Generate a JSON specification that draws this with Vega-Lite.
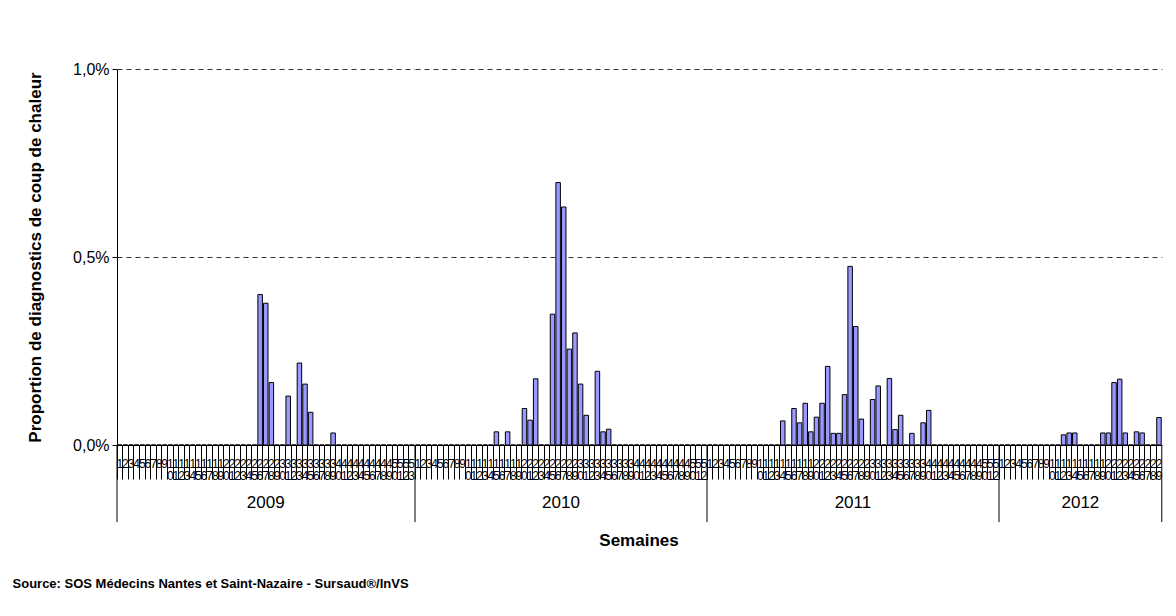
{
"$schema": "https://vega.github.io/schema/vega-lite/v6.json",
"background": "white",
"padding": {"left": 12, "top": 61, "right": 4, "bottom": 4},
"bounds": "flush",
"data": {"values": [
{"y":2009,"w":1,"v":0},{"y":2009,"w":2,"v":0},{"y":2009,"w":3,"v":0},{"y":2009,"w":4,"v":0},{"y":2009,"w":5,"v":0},{"y":2009,"w":6,"v":0},{"y":2009,"w":7,"v":0},{"y":2009,"w":8,"v":0},{"y":2009,"w":9,"v":0},{"y":2009,"w":10,"v":0},
{"y":2009,"w":11,"v":0},{"y":2009,"w":12,"v":0},{"y":2009,"w":13,"v":0},{"y":2009,"w":14,"v":0},{"y":2009,"w":15,"v":0},{"y":2009,"w":16,"v":0},{"y":2009,"w":17,"v":0},{"y":2009,"w":18,"v":0},{"y":2009,"w":19,"v":0},{"y":2009,"w":20,"v":0},
{"y":2009,"w":21,"v":0},{"y":2009,"w":22,"v":0},{"y":2009,"w":23,"v":0},{"y":2009,"w":24,"v":0},{"y":2009,"w":25,"v":0},{"y":2009,"w":26,"v":0.40},{"y":2009,"w":27,"v":0.377},{"y":2009,"w":28,"v":0.166},{"y":2009,"w":29,"v":0},{"y":2009,"w":30,"v":0},
{"y":2009,"w":31,"v":0.13},{"y":2009,"w":32,"v":0},{"y":2009,"w":33,"v":0.218},{"y":2009,"w":34,"v":0.162},{"y":2009,"w":35,"v":0.087},{"y":2009,"w":36,"v":0},{"y":2009,"w":37,"v":0},{"y":2009,"w":38,"v":0},{"y":2009,"w":39,"v":0.032},{"y":2009,"w":40,"v":0},
{"y":2009,"w":41,"v":0},{"y":2009,"w":42,"v":0},{"y":2009,"w":43,"v":0},{"y":2009,"w":44,"v":0},{"y":2009,"w":45,"v":0},{"y":2009,"w":46,"v":0},{"y":2009,"w":47,"v":0},{"y":2009,"w":48,"v":0},{"y":2009,"w":49,"v":0},{"y":2009,"w":50,"v":0},
{"y":2009,"w":51,"v":0},{"y":2009,"w":52,"v":0},{"y":2009,"w":53,"v":0},
{"y":2010,"w":1,"v":0},{"y":2010,"w":2,"v":0},{"y":2010,"w":3,"v":0},{"y":2010,"w":4,"v":0},{"y":2010,"w":5,"v":0},{"y":2010,"w":6,"v":0},{"y":2010,"w":7,"v":0},{"y":2010,"w":8,"v":0},{"y":2010,"w":9,"v":0},{"y":2010,"w":10,"v":0},
{"y":2010,"w":11,"v":0},{"y":2010,"w":12,"v":0},{"y":2010,"w":13,"v":0},{"y":2010,"w":14,"v":0},{"y":2010,"w":15,"v":0.035},{"y":2010,"w":16,"v":0},{"y":2010,"w":17,"v":0.035},{"y":2010,"w":18,"v":0},{"y":2010,"w":19,"v":0},{"y":2010,"w":20,"v":0.097},
{"y":2010,"w":21,"v":0.066},{"y":2010,"w":22,"v":0.176},{"y":2010,"w":23,"v":0},{"y":2010,"w":24,"v":0},{"y":2010,"w":25,"v":0.348},{"y":2010,"w":26,"v":0.698},{"y":2010,"w":27,"v":0.633},{"y":2010,"w":28,"v":0.255},{"y":2010,"w":29,"v":0.298},{"y":2010,"w":30,"v":0.162},
{"y":2010,"w":31,"v":0.079},{"y":2010,"w":32,"v":0},{"y":2010,"w":33,"v":0.196},{"y":2010,"w":34,"v":0.035},{"y":2010,"w":35,"v":0.042},{"y":2010,"w":36,"v":0},{"y":2010,"w":37,"v":0},{"y":2010,"w":38,"v":0},{"y":2010,"w":39,"v":0},{"y":2010,"w":40,"v":0},
{"y":2010,"w":41,"v":0},{"y":2010,"w":42,"v":0},{"y":2010,"w":43,"v":0},{"y":2010,"w":44,"v":0},{"y":2010,"w":45,"v":0},{"y":2010,"w":46,"v":0},{"y":2010,"w":47,"v":0},{"y":2010,"w":48,"v":0},{"y":2010,"w":49,"v":0},{"y":2010,"w":50,"v":0},
{"y":2010,"w":51,"v":0},{"y":2010,"w":52,"v":0},
{"y":2011,"w":1,"v":0},{"y":2011,"w":2,"v":0},{"y":2011,"w":3,"v":0},{"y":2011,"w":4,"v":0},{"y":2011,"w":5,"v":0},{"y":2011,"w":6,"v":0},{"y":2011,"w":7,"v":0},{"y":2011,"w":8,"v":0},{"y":2011,"w":9,"v":0},{"y":2011,"w":10,"v":0},
{"y":2011,"w":11,"v":0},{"y":2011,"w":12,"v":0},{"y":2011,"w":13,"v":0},{"y":2011,"w":14,"v":0.064},{"y":2011,"w":15,"v":0},{"y":2011,"w":16,"v":0.097},{"y":2011,"w":17,"v":0.059},{"y":2011,"w":18,"v":0.111},{"y":2011,"w":19,"v":0.035},{"y":2011,"w":20,"v":0.074},
{"y":2011,"w":21,"v":0.111},{"y":2011,"w":22,"v":0.209},{"y":2011,"w":23,"v":0.031},{"y":2011,"w":24,"v":0.031},{"y":2011,"w":25,"v":0.134},{"y":2011,"w":26,"v":0.475},{"y":2011,"w":27,"v":0.315},{"y":2011,"w":28,"v":0.069},{"y":2011,"w":29,"v":0},{"y":2011,"w":30,"v":0.121},
{"y":2011,"w":31,"v":0.157},{"y":2011,"w":32,"v":0},{"y":2011,"w":33,"v":0.177},{"y":2011,"w":34,"v":0.041},{"y":2011,"w":35,"v":0.079},{"y":2011,"w":36,"v":0},{"y":2011,"w":37,"v":0.031},{"y":2011,"w":38,"v":0},{"y":2011,"w":39,"v":0.059},{"y":2011,"w":40,"v":0.092},
{"y":2011,"w":41,"v":0},{"y":2011,"w":42,"v":0},{"y":2011,"w":43,"v":0},{"y":2011,"w":44,"v":0},{"y":2011,"w":45,"v":0},{"y":2011,"w":46,"v":0},{"y":2011,"w":47,"v":0},{"y":2011,"w":48,"v":0},{"y":2011,"w":49,"v":0},{"y":2011,"w":50,"v":0},
{"y":2011,"w":51,"v":0},{"y":2011,"w":52,"v":0},
{"y":2012,"w":1,"v":0},{"y":2012,"w":2,"v":0},{"y":2012,"w":3,"v":0},{"y":2012,"w":4,"v":0},{"y":2012,"w":5,"v":0},{"y":2012,"w":6,"v":0},{"y":2012,"w":7,"v":0},{"y":2012,"w":8,"v":0},{"y":2012,"w":9,"v":0},{"y":2012,"w":10,"v":0},
{"y":2012,"w":11,"v":0},{"y":2012,"w":12,"v":0.027},{"y":2012,"w":13,"v":0.032},{"y":2012,"w":14,"v":0.032},{"y":2012,"w":15,"v":0},{"y":2012,"w":16,"v":0},{"y":2012,"w":17,"v":0},{"y":2012,"w":18,"v":0},{"y":2012,"w":19,"v":0.032},{"y":2012,"w":20,"v":0.032},
{"y":2012,"w":21,"v":0.166},{"y":2012,"w":22,"v":0.175},{"y":2012,"w":23,"v":0.032},{"y":2012,"w":24,"v":0},{"y":2012,"w":25,"v":0.035},{"y":2012,"w":26,"v":0.032},{"y":2012,"w":27,"v":0},{"y":2012,"w":28,"v":0},{"y":2012,"w":29,"v":0.073}
]},
"facet": {"column": {"field": "y", "type": "ordinal", "title": "Semaines",
  "header": {"labelOrient": "bottom", "titleOrient": "bottom", "labelFontSize": 17, "labelFont": "Liberation Sans", "labelColor": "black", "labelPadding": 50, "titleFont": "Liberation Sans", "titleFontSize": 17, "titleFontWeight": "bold", "titleColor": "black", "titlePadding": 12}}},
"spacing": 0,
"resolve": {"scale": {"x": "independent"}},
"spec": {
  "width": {"step": 5.613},
  "height": 376,
  "layer": [
    {"mark": {"type": "bar", "fill": "#9999ff", "stroke": "black", "strokeWidth": 1, "width": {"band": 0.8}},
     "encoding": {
       "x": {"field": "w", "type": "ordinal", "scale": {"paddingInner": 0, "paddingOuter": 0},
         "axis": {"title": null, "bandPosition": 0, "tickSize": 34, "tickColor": "black", "domainColor": "black",
           "labelExpr": "split(datum.label, '')", "labelAngle": 0, "labelFontSize": 12, "labelLineHeight": 12,
           "labelPadding": -21, "labelOverlap": false, "labelFlush": false, "labelBound": false, "labelColor": "black",
           "labelBaseline": "top", "labelFont": "Liberation Sans"}},
       "y": {"field": "v", "type": "quantitative", "scale": {"domain": [0, 1], "nice": false},
         "axis": {"title": "Proportion de diagnostics de coup de chaleur", "values": [0, 0.5, 1],
           "labelExpr": "replace(format(datum.value, '.1f'), '.', ',') + '%'",
           "grid": true, "gridDash": [5, 4], "gridColor": "#333333", "tickSize": 5, "tickColor": "black", "domainColor": "black",
           "labelFontSize": 16, "labelPadding": 3, "labelColor": "black", "labelFont": "Liberation Sans",
           "titleFont": "Liberation Sans", "titleFontSize": 17, "titleFontWeight": "bold", "titleColor": "black", "titlePadding": 28}}
     }},
    {"transform": [{"joinaggregate": [{"op": "min", "field": "w", "as": "wmin"}], "groupby": ["y"]}, {"filter": "datum.w == datum.wmin"}],
     "mark": {"type": "rule", "color": "black", "strokeWidth": 1},
     "encoding": {"x": {"field": "w", "type": "ordinal", "bandPosition": 0}, "y": {"datum": 0}, "y2": {"datum": -0.205}}},
    {"transform": [{"joinaggregate": [{"op": "max", "field": "w", "as": "wmax"}], "groupby": ["y"]}, {"filter": "datum.y == 2012 && datum.w == datum.wmax"}],
     "mark": {"type": "rule", "color": "black", "strokeWidth": 1},
     "encoding": {"x": {"field": "w", "type": "ordinal", "bandPosition": 1}, "y": {"datum": 0}, "y2": {"datum": -0.205}}}
  ]
},
"title": {"text": "Source: SOS Médecins Nantes et Saint-Nazaire - Sursaud®/InVS", "orient": "bottom", "anchor": "start", "frame": "bounds", "dx": -14, "offset": 29, "fontSize": 13, "fontWeight": "bold", "font": "Liberation Sans", "color": "black"},
"config": {"view": {"stroke": null}, "font": "Liberation Sans"}
}
